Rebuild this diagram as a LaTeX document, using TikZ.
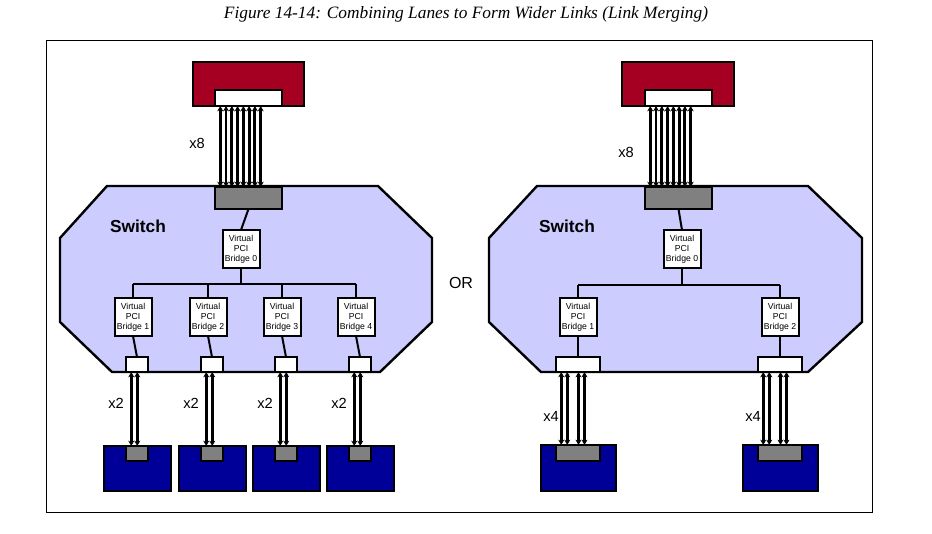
\documentclass[tikz,border=0pt]{standalone}
\usepackage{fontspec}
\setmainfont{Liberation Sans}
\newfontfamily\serifit{Liberation Serif}
\usetikzlibrary{arrows.meta,calc}
\definecolor{devred}{HTML}{A50021}
\definecolor{swfill}{HTML}{CCCCFF}
\definecolor{devblue}{HTML}{000099}
\definecolor{portgray}{HTML}{808080}
\newcommand\mybox[6]{\node[#1,anchor=north west,minimum width=#4*0.75pt,minimum height=#5*0.75pt] (#6) at (#2,#3) {};}
\tikzset{
 bx/.style={draw=black,line width=1.8pt,inner sep=0pt,outer sep=0pt},
 red/.style={bx,fill=devred},
 white/.style={bx,fill=white},
 gray/.style={bx,fill=portgray},
 blue/.style={bx,fill=devblue},
 wire/.style={line width=1.5pt},
 lane/.style={line width=2.2pt,{Stealth[length=4pt,width=4.5pt]}-{Stealth[length=4pt,width=4.5pt]}},
 bridge/.style={draw=black,line width=1.5pt,fill=white,inner sep=1pt,outer sep=0pt,align=center,font=\fontsize{6.5}{7.5}\selectfont,minimum width=37*0.75pt,minimum height=38*0.75pt},
 lbl/.style={font=\fontsize{11}{12}\selectfont},
 sw/.style={font=\bfseries\fontsize{13}{14}\selectfont},
 oct/.style={draw=black,line width=1.8pt,fill=swfill}
}
\begin{document}
\begin{tikzpicture}[x=0.75pt,y=-0.75pt]
\useasboundingbox (0,0) rectangle (932,534);
\node[font=\serifit\itshape\fontsize{13}{15}\selectfont] (title) at (466,14) {Figure 14-14: Combining Lanes to Form Wider Links (Link Merging)};
\node[draw=black,line width=0.6pt,anchor=north west,minimum width=826*0.75pt,minimum height=472*0.75pt,inner sep=0pt] (frame) at (46,40) {};
% ---------- LEFT ----------
\draw[oct] (107,186)--(378,186)--(432,238)--(432,322)--(380,372)--(112,372)--(60,322)--(60,238)--cycle;
\node[sw] (swL) at (138,226) {Switch};
\mybox{red}{193}{62}{111}{44}{redL}
\mybox{white}{215}{90}{67}{16}{upL}
\mybox{gray}{215}{187}{67}{22}{dnL}
\foreach \i in {0,...,7}{
 \draw[lane] ($(upL.south west)+({(7+7.7*\i)*0.75},0)$) -- ($(dnL.north west)+({(7+7.7*\i)*0.75},0)$);}
\node[lbl] (x8L) at (197,143) {x8};
\node[bridge] (b0L) at (241,249) {Virtual\\PCI\\Bridge 0};
\draw[wire] (dnL.south) -- (b0L.north);
\coordinate (busL) at (241,284);
\draw[wire] (b0L.south) -- (busL);
\draw[wire] (133,284) -- (356,284);
\foreach \x/\n in {133/1,208/2,282/3,356/4}{
 \node[bridge] (bL\n) at (\x,317) {Virtual\\PCI\\Bridge \n};
 \draw[wire] (\x,284) -- (bL\n.north);
 \mybox{white}{\x-7}{357}{22}{15}{pL\n}
 \draw[wire] (bL\n.south) -- (pL\n.north);
 \mybox{blue}{\x-29}{446}{67}{45}{dL\n}
 \mybox{gray}{\x-7}{446}{22}{15}{gL\n}
 \draw[lane] ($(pL\n.south west)+(0.75*7,0)$) -- ($(gL\n.north west)+(0.75*7,0)$);
 \draw[lane] ($(pL\n.south west)+(0.75*15,0)$) -- ($(gL\n.north west)+(0.75*15,0)$);
 \node[lbl] (xL\n) at (\x-17,403) {x2};
}
\node[lbl,font=\fontsize{12}{13}\selectfont] (or) at (461,283) {OR};
% ---------- RIGHT ----------
\draw[oct] (537,186)--(808,186)--(862,238)--(862,322)--(808,372)--(541,372)--(489,322)--(489,238)--cycle;
\node[sw] (swR) at (567,226) {Switch};
\mybox{red}{622}{62}{112}{44}{redR}
\mybox{white}{645}{90}{67}{16}{upR}
\mybox{gray}{645}{187}{67}{22}{dnR}
\foreach \i in {0,...,7}{
 \draw[lane] ($(upR.south west)+({(7+7.7*\i)*0.75},0)$) -- ($(dnR.north west)+({(7+7.7*\i)*0.75},0)$);}
\node[lbl] (x8R) at (626,152) {x8};
\node[bridge] (b0R) at (682,249) {Virtual\\PCI\\Bridge 0};
\draw[wire] (dnR.south) -- (b0R.north);
\draw[wire] (b0R.south) -- (682,285);
\draw[wire] (578,285) -- (780,285);
\foreach \x/\n in {578/1,780/2}{
 \node[bridge] (bR\n) at (\x,317) {Virtual\\PCI\\Bridge \n};
 \draw[wire] (\x,285) -- (bR\n.north);
 \mybox{white}{\x-22}{357}{44}{15}{pR\n}
 \draw[wire] (bR\n.south) -- (pR\n.north);
 \mybox{blue}{\x-37}{445}{75}{46}{dR\n}
 \mybox{gray}{\x-22}{445}{44}{16}{gR\n}
 \foreach \d in {7,15,30,38}{
  \draw[lane] ($(pR\n.south west)+(0.75*\d,0)$) -- ($(gR\n.north west)+(0.75*\d,0)$);}
 \node[lbl] (xR\n) at (\x-27,416) {x4};
}
\end{tikzpicture}
\end{document}
